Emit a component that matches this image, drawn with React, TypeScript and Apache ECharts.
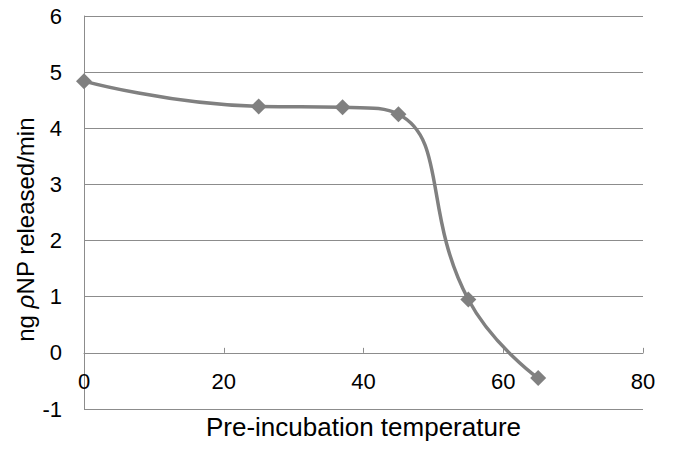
import React, { useEffect, useRef } from "react";
import * as echarts from "echarts";

const temperatures = [0, 25, 37, 45, 55, 65];
const rates = [4.84, 4.39, 4.375, 4.25, 0.95, -0.45];
const xTicks = [0, 20, 40, 60, 80];
const yTicks = [-1, 0, 1, 2, 3, 4, 5, 6];

export default function App() {
  const ref = useRef<HTMLDivElement>(null);
  useEffect(() => {
    const chart = echarts.init(ref.current!, null, { renderer: "svg" });
    const font = "Liberation Sans, Arial, sans-serif";
    chart.setOption({
      animation: false,
      grid: { left: 84, right: 35, top: 16, bottom: 41, outerBoundsMode: "none", containLabel: false },
      xAxis: {
        type: "value",
        min: xTicks[0],
        max: xTicks[xTicks.length - 1],
        interval: 20,
        name: "Pre-incubation temperature",
        nameLocation: "middle",
        nameGap: 5,
        nameMoveOverlap: false,
        nameTextStyle: { fontFamily: font, fontSize: 26, color: "#000" },
        axisLine: { onZero: true, lineStyle: { color: "#8c8c8c", width: 1 } },
        axisTick: { show: true, inside: true, length: 5, lineStyle: { color: "#8c8c8c" } },
        axisLabel: { fontFamily: font, fontSize: 22, color: "#000", margin: -39 },
        splitLine: { show: false },
      },
      yAxis: {
        type: "value",
        min: yTicks[0],
        max: yTicks[yTicks.length - 1],
        interval: 1,
        name: "{a|ng }{i|ρ}{a|NP released/min}",
        nameLocation: "middle",
        nameGap: 47,
        nameMoveOverlap: false,
        nameTextStyle: {
          padding: [0, 34, 0, 0],
          rich: {
            a: { fontFamily: font, fontSize: 24, color: "#000" },
            i: { fontFamily: font, fontSize: 24, color: "#000", fontStyle: "italic" },
          },
        },
        axisLine: { show: true, lineStyle: { color: "#8c8c8c", width: 1 } },
        axisTick: { show: false },
        axisLabel: { fontFamily: font, fontSize: 22, color: "#000", margin: 22 },
        splitLine: { show: true, lineStyle: { color: "#8c8c8c", width: 1 } },
      },
      series: [
        {
          type: "line",
          data: temperatures.map((t, i) => [t, rates[i]]),
          smooth: 0.5,
          symbol: "diamond",
          symbolSize: 16,
          itemStyle: { color: "#808080" },
          lineStyle: { color: "#808080", width: 3.5 },
        },
      ],
    });
    return () => chart.dispose();
  }, []);
  return (
    <div
      ref={ref}
      style={{ position: "absolute", left: 0, top: 0, width: 678, height: 450 }}
    />
  );
}
